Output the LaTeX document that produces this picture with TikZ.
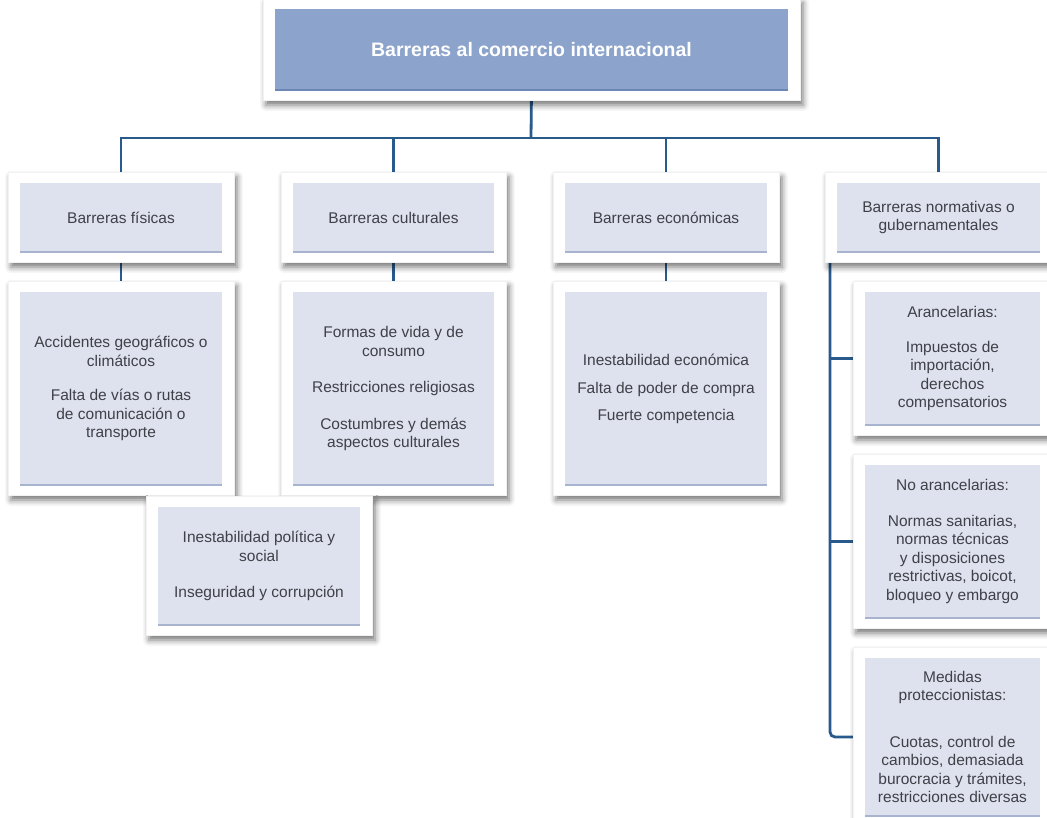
\documentclass[tikz,border=0pt]{standalone}
\usepackage{fontspec}
\setmainfont{Liberation Sans}
\usetikzlibrary{shadows.blur}
\definecolor{innerfill}{HTML}{DDE2EE}
\definecolor{innerline}{HTML}{A7B3CF}
\definecolor{topfill}{HTML}{8CA3CB}
\definecolor{topline}{HTML}{6C86B5}
\definecolor{connc}{HTML}{285A8C}
\definecolor{txt}{HTML}{404048}
\pgfdeclarelayer{background}
\pgfsetlayers{background,main}
\tikzset{
  card/.style={fill=white, draw=black!5, line width=0.6pt,
    blur shadow={shadow xshift=3pt, shadow yshift=-5pt, shadow blur radius=6pt, shadow opacity=55}},
  box/.style={fill=innerfill, draw=none, text=txt, font=\fontsize{15.5}{18.5}\selectfont, align=center, inner sep=0pt},
  topbox/.style={fill=topfill, draw=none, text=white, font=\bfseries\fontsize{19.5}{22}\selectfont, align=center, inner sep=0pt},
  boxbase/.style={draw=innerline, line width=2pt},
  topboxbase/.style={draw=topline, line width=2pt},
  connector/.style={draw=connc, line width=2.8pt},
}
% #1 style, #2 name, #3 x1, #4 y1, #5 x2, #6 y2, #7 text
\newcommand\cardbox[7]{%
  \draw[card] (#3-12,#4-11) rectangle (#5+12,#6+10);
  \node[#1, minimum width=#5-#3, minimum height=#6-#4] (#2) at ({(#3+#5)/2},{(#4+#6)/2}) {#7};
  \draw[#1base] (#2.south west) -- (#2.south east);}
\begin{document}
\begin{tikzpicture}[x=1pt,y=-1pt]
\useasboundingbox (0,0) rectangle (1047,818);

\cardbox{topbox}{top}{275}{9}{788}{90}{Barreras al comercio internacional}

\cardbox{box}{fis}{20}{183}{222}{252}{Barreras físicas}
\cardbox{box}{cul}{293}{183}{494}{252}{Barreras culturales}
\cardbox{box}{eco}{565}{183}{767}{252}{Barreras económicas}
\cardbox{box}{nor}{837}{183}{1040}{252}{Barreras normativas o\\gubernamentales}

\cardbox{box}{fisd}{20}{292}{222}{485}{Accidentes geográficos o\\climáticos\\[16pt]Falta de vías o rutas\\de comunicación o\\transporte}
\cardbox{box}{culd}{293}{292}{494}{485}{Formas de vida y de\\consumo\\[18pt]Restricciones religiosas\\[18pt]Costumbres y demás\\aspectos culturales}
\cardbox{box}{ecod}{565}{292}{767}{485}{Inestabilidad económica\\[10pt]Falta de poder de compra\\[8pt]Fuerte competencia}

\cardbox{box}{pol}{158}{507}{360}{625}{Inestabilidad política y\\social\\[18pt]Inseguridad y corrupción}

\cardbox{box}{ara}{865}{292}{1040}{425}{Arancelarias:\\[16pt]Impuestos de\\importación,\\derechos\\compensatorios}
\cardbox{box}{noa}{865}{465}{1040}{618}{No arancelarias:\\[17pt]Normas sanitarias,\\normas técnicas\\y disposiciones\\restrictivas, boicot,\\bloqueo y embargo}
\cardbox{box}{med}{865}{658}{1040}{816}{Medidas\\proteccionistas:\\[28pt]Cuotas, control de\\cambios, demasiada\\burocracia y trámites,\\restricciones diversas}

\begin{pgfonlayer}{background}
  \coordinate (bus) at (531,138);
  \coordinate (nb) at (830,262);
  \draw[connector] (top.south) -- (bus);
  \draw[connector] (fis.north) |- (bus) -| (nor.north);
  \draw[connector] (cul.north) -- (cul.north |- bus);
  \draw[connector] (eco.north) -- (eco.north |- bus);
  \draw[connector] (fis.south) -- (fisd.north);
  \draw[connector] (cul.south) -- (culd.north);
  \draw[connector] (eco.south) -- (ecod.north);
  \draw[connector, rounded corners=5pt] (nb) |- (med.west);
  \draw[connector] (nb |- ara.west) -- (ara.west);
  \draw[connector] (nb |- noa.west) -- (noa.west);
\end{pgfonlayer}
\end{tikzpicture}
\end{document}
